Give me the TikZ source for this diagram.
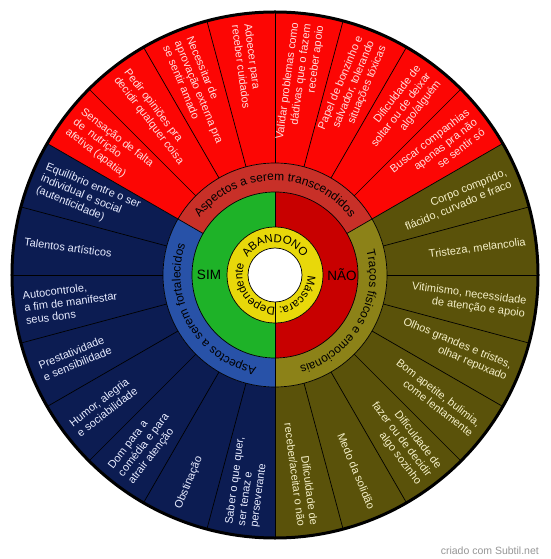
\documentclass[tikz,border=0pt]{standalone}
\usepackage{fontspec}
\setmainfont{Liberation Sans}
\usetikzlibrary{decorations.text}

\definecolor{outred}{RGB}{252,6,4}
\definecolor{midred}{RGB}{200,48,40}
\definecolor{inred}{RGB}{200,0,0}
\definecolor{outblue}{RGB}{12,28,82}
\definecolor{midblue}{RGB}{40,82,168}
\definecolor{outolive}{RGB}{90,82,10}
\definecolor{midolive}{RGB}{140,130,24}
\definecolor{ingreen}{RGB}{30,178,40}
\definecolor{inyellow}{RGB}{232,216,10}
\definecolor{redtxt}{RGB}{255,222,222}
\definecolor{bluetxt}{RGB}{232,236,255}
\definecolor{olivetxt}{RGB}{245,240,200}
\definecolor{credit}{RGB}{150,150,150}

\newcommand\annsec[5]{%
  \fill[#1] (#2:#4) arc[start angle=#2, end angle=#3, radius=#4]
    -- (#3:#5) arc[start angle=#3, end angle=#2, radius=#5] -- cycle;}

\tikzset{
  thinline/.style={draw=black, line width=0.7pt},
  outtext/.style={font=\fontsize{11}{12.6}\selectfont, inner sep=0pt},
  rtext/.style={outtext, align=right, anchor=east},
  ltext/.style={outtext, align=left, anchor=west},
  curved/.style={decorate, decoration={text along path, text align=center, text={#1}}},
}

\begin{document}
\begin{tikzpicture}[x=1pt,y=1pt]
\useasboundingbox (-275,-284) rectangle (275,275);
\fill[white] (-275,-284) rectangle (275,275);

% outer sectors
\annsec{outred}{30}{150}{112}{263}
\annsec{outblue}{150}{270}{112}{263}
\annsec{outolive}{270}{390}{112}{263}
% middle ring
\annsec{midred}{30}{150}{83}{112}
\annsec{midblue}{150}{270}{83}{112}
\annsec{midolive}{270}{390}{83}{112}
% inner halves
\annsec{ingreen}{90}{270}{48}{83}
\annsec{inred}{-90}{90}{48}{83}
% yellow ring and hole
\fill[inyellow] (0,0) circle[radius=48];
\fill[white] (0,0) circle[radius=27];

% radial lines
\foreach \a in {0,15,...,345} \draw[thinline] (\a:112) -- (\a:263);
\foreach \a in {30,150,270} \draw[thinline] (\a:83) -- (\a:112);
\draw[thinline] (90:48) -- (90:83);
\draw[thinline] (270:27) -- (270:83);
% circles
\foreach \r in {27,48,83,112} \draw[thinline] (0,0) circle[radius=\r];
\draw[line width=3pt] (0,0) circle[radius=263];

% curved labels
\path[curved={|\fontsize{12}{14}\selectfont|Aspectos a serem transcendidos}]
  (175:94.5) arc[start angle=175, end angle=5, radius=94.5];
\path[curved={|\fontsize{12}{14}\selectfont|Aspectos a serem fortalecidos}]
  (295:94.5) arc[start angle=295, end angle=125, radius=94.5];
\path[curved={|\fontsize{12}{14}\selectfont|Traços físicos e emocionais}]
  (55:94.5) arc[start angle=55, end angle=-115, radius=94.5];
\path[curved={|\fontsize{11.5}{13}\selectfont|ABANDONO}]
  (180:32.5) arc[start angle=180, end angle=0, radius=32.5];
\path[curved={|\fontsize{11.5}{13}\selectfont|Máscara: Dependente}]
  (20:32.5) arc[start angle=20, end angle=-220, radius=32.5];

\node[font=\fontsize{13.5}{15}\selectfont] (sim) at (-66,0) {SIM};
\node[font=\fontsize{13.5}{15}\selectfont] (nao) at (67,0) {NÃO};

% red sector texts
\node[rtext, text=redtxt, rotate=82.5] (r1) at (82.5:253) {Validar problemas como\\dádivas que o fazem\\receber apoio};
\node[rtext, text=redtxt, rotate=67.5] (r2) at (67.5:253) {Papel de bonzinho e\\salvador, tolerando\\situações tóxicas};
\node[rtext, text=redtxt, rotate=52.5] (r3) at (52.5:253) {Dificuldade de\\soltar ou de deixar\\algo/alguém};
\node[rtext, text=redtxt, rotate=37.5] (r4) at (37.5:253) {Buscar companhias\\apenas pra não\\se sentir só};
\node[ltext, text=redtxt, rotate=-82.5] (r5) at (97.5:253) {Adoecer para\\receber cuidados};
\node[ltext, text=redtxt, rotate=-67.5] (r6) at (112.5:253) {Necessitar de\\aprovação externa pra\\se sentir amado};
\node[ltext, text=redtxt, rotate=-52.5] (r7) at (127.5:253) {Pedir opiniões pra\\decidir qualquer coisa};
\node[ltext, text=redtxt, rotate=-37.5] (r8) at (142.5:253) {Sensação de falta\\de\ \ nutrição\\afetiva (apatia)};

% blue sector texts
\node[ltext, text=bluetxt, rotate=-22.5] (b1) at (157.5:253) {Equilíbrio entre o ser\\individual e social\\(autenticidade)};
\node[ltext, text=bluetxt, rotate=-7.5] (b2) at (172.5:253) {Talentos artísticos};
\node[ltext, text=bluetxt, rotate=7.5] (b3) at (187.5:253) {Autocontrole,\\a fim de manifestar\\seus dons};
\node[ltext, text=bluetxt, rotate=22.5] (b4) at (202.5:253) {Prestatividade\\e sensibilidade};
\node[ltext, text=bluetxt, rotate=37.5] (b5) at (217.5:253) {Humor, alegria\\e sociabilidade};
\node[ltext, text=bluetxt, rotate=52.5] (b6) at (232.5:253) {Dom para a\\comédia e para\\atrair atenção};
\node[ltext, text=bluetxt, rotate=67.5] (b7) at (247.5:253) {Obstinação};
\node[ltext, text=bluetxt, rotate=82.5] (b8) at (262.5:253) {Saber o que quer,\\ser tenaz e\\perseverante};

% olive sector texts
\node[rtext, text=olivetxt, rotate=22.5] (o1) at (22.5:253) {Corpo comprido,\\flácido, curvado e fraco};
\node[rtext, text=olivetxt, rotate=7.5] (o2) at (7.5:253) {Tristeza, melancolia};
\node[rtext, text=olivetxt, rotate=-7.5] (o3) at (-7.5:253) {Vitimismo, necessidade\\de atenção e apoio};
\node[rtext, text=olivetxt, rotate=-22.5] (o4) at (-22.5:253) {Olhos grandes e tristes,\\olhar repuxado};
\node[rtext, text=olivetxt, rotate=-37.5] (o5) at (-37.5:253) {Bom apetite, bulimia,\\come lentamente};
\node[rtext, text=olivetxt, rotate=-52.5] (o6) at (-52.5:253) {Dificuldade de\\fazer ou de decidir\\algo sozinho};
\node[rtext, text=olivetxt, rotate=-67.5] (o7) at (-67.5:253) {Medo da solidão};
\node[rtext, text=olivetxt, rotate=-82.5] (o8) at (-82.5:253) {Dificuldade de\\receber/aceitar o não};

\node[anchor=east, inner sep=0pt, text=credit, font=\fontsize{10.5}{12}\selectfont] (credit) at (264,-276) {criado com Subtil.net};
\end{tikzpicture}
\end{document}
